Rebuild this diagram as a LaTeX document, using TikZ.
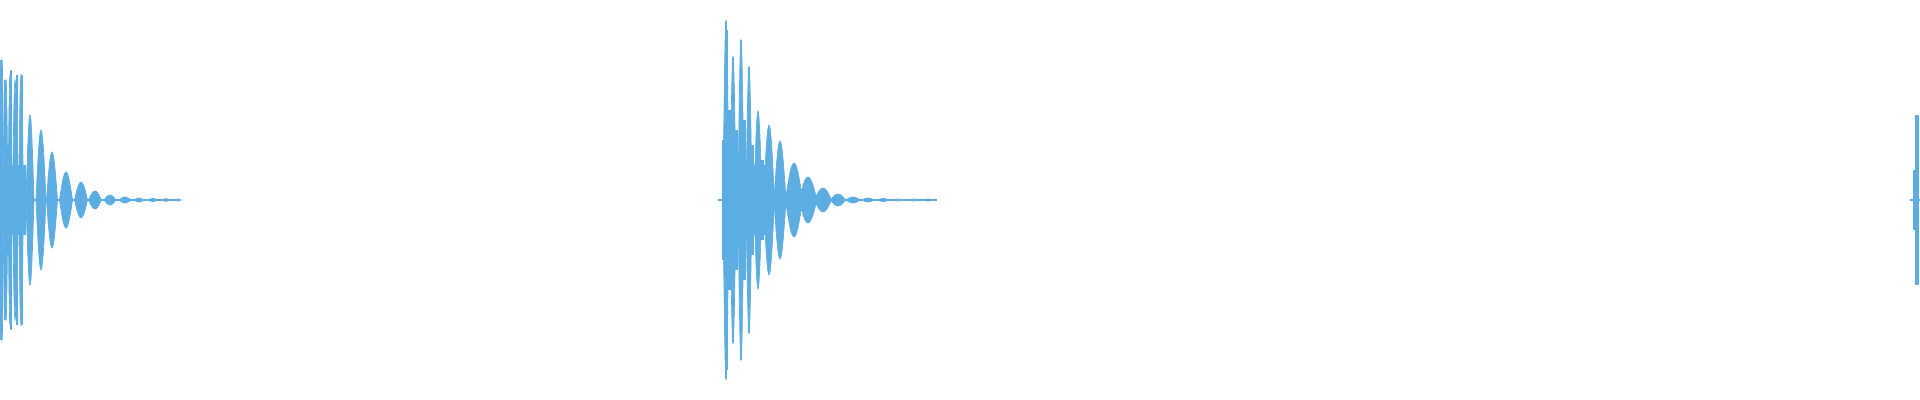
\documentclass[tikz,border=0pt]{standalone}
\usepackage{tikz}
\definecolor{wave}{HTML}{5DADE2}
\tikzset{
    lobe/.style={fill=wave, draw=wave, line width=0.2pt},
    baseline/.style={draw=wave, line width=0.6pt},
}
% one lobe: centre x, half width, amplitude (pixels)
\newcommand{\lobe}[3]{%
  \fill[lobe] plot[domain=-#2:#2, samples=15, smooth] ({#1+\x}, {200+#3*cos(90*\x/#2)})
    -- plot[domain=#2:-#2, samples=15, smooth] ({#1+\x}, {200-#3*cos(90*\x/#2)}) -- cycle;}

\begin{document}
\begin{tikzpicture}[x=0.01cm, y=-0.01cm]
    \useasboundingbox (0,0) rectangle (1920,400);

    % first burst
    \draw[baseline] (0,200) -- (180,200);
    \fill[wave] (0,165) rectangle (26,235);
    \foreach \cx/\w/\a in {2/2/140, 6/2/120, 10/2/125, 15/2.5/120, 21/2.5/125,
        30/4/85, 41/5/70, 52/5.5/48, 66/6.5/28, 81/6.5/18, 95/6.5/9,
        110/6/5, 125/6/3, 139/5/2, 153/5/1.5, 166/5/1.2, 178/3/1}
      {\lobe{\cx}{\w}{\a}}
    \foreach \cx/\a in {1/140, 5/120, 11/130, 17/125, 22/125}
      {\draw[wave, line width=0.8pt] (\cx,200-\a) -- (\cx,200+\a);}

    % second burst
    \draw[baseline] (718,200) -- (937,200);
    \fill[wave] (723,165) rectangle (765,235);
    \foreach \cx/\w/\a in {726/3/179, 733/3/143, 741/3/160, 749/3/133, 758/4/89,
        769/5.5/75, 780/6/59, 794/8.5/37, 808/9/23, 823/8.5/12, 838/7.5/6,
        853/7/3, 868/6/2, 883/6/1.5, 898/6/1, 913/6/1, 928/6/1}
      {\lobe{\cx}{\w}{\a}}
    \foreach \cx/\a in {726/179, 727/170, 733/143, 741/160, 749/133}
      {\draw[wave, line width=0.8pt] (\cx,200-\a) -- (\cx,200+\a);}
    \foreach \cx/\a in {724/60, 729/90, 736/70, 744/80, 752/55, 762/40}
      {\draw[wave, line width=1.2pt] (\cx,200-\a) -- (\cx,200+\a);}

    % third burst
    \draw[baseline] (1910,200) -- (1920,200);
    \draw[wave, line width=1.2pt] (1917,115) -- (1917,285);
    \draw[wave, line width=1.2pt] (1915,170) -- (1915,230);
\end{tikzpicture}
\end{document}
